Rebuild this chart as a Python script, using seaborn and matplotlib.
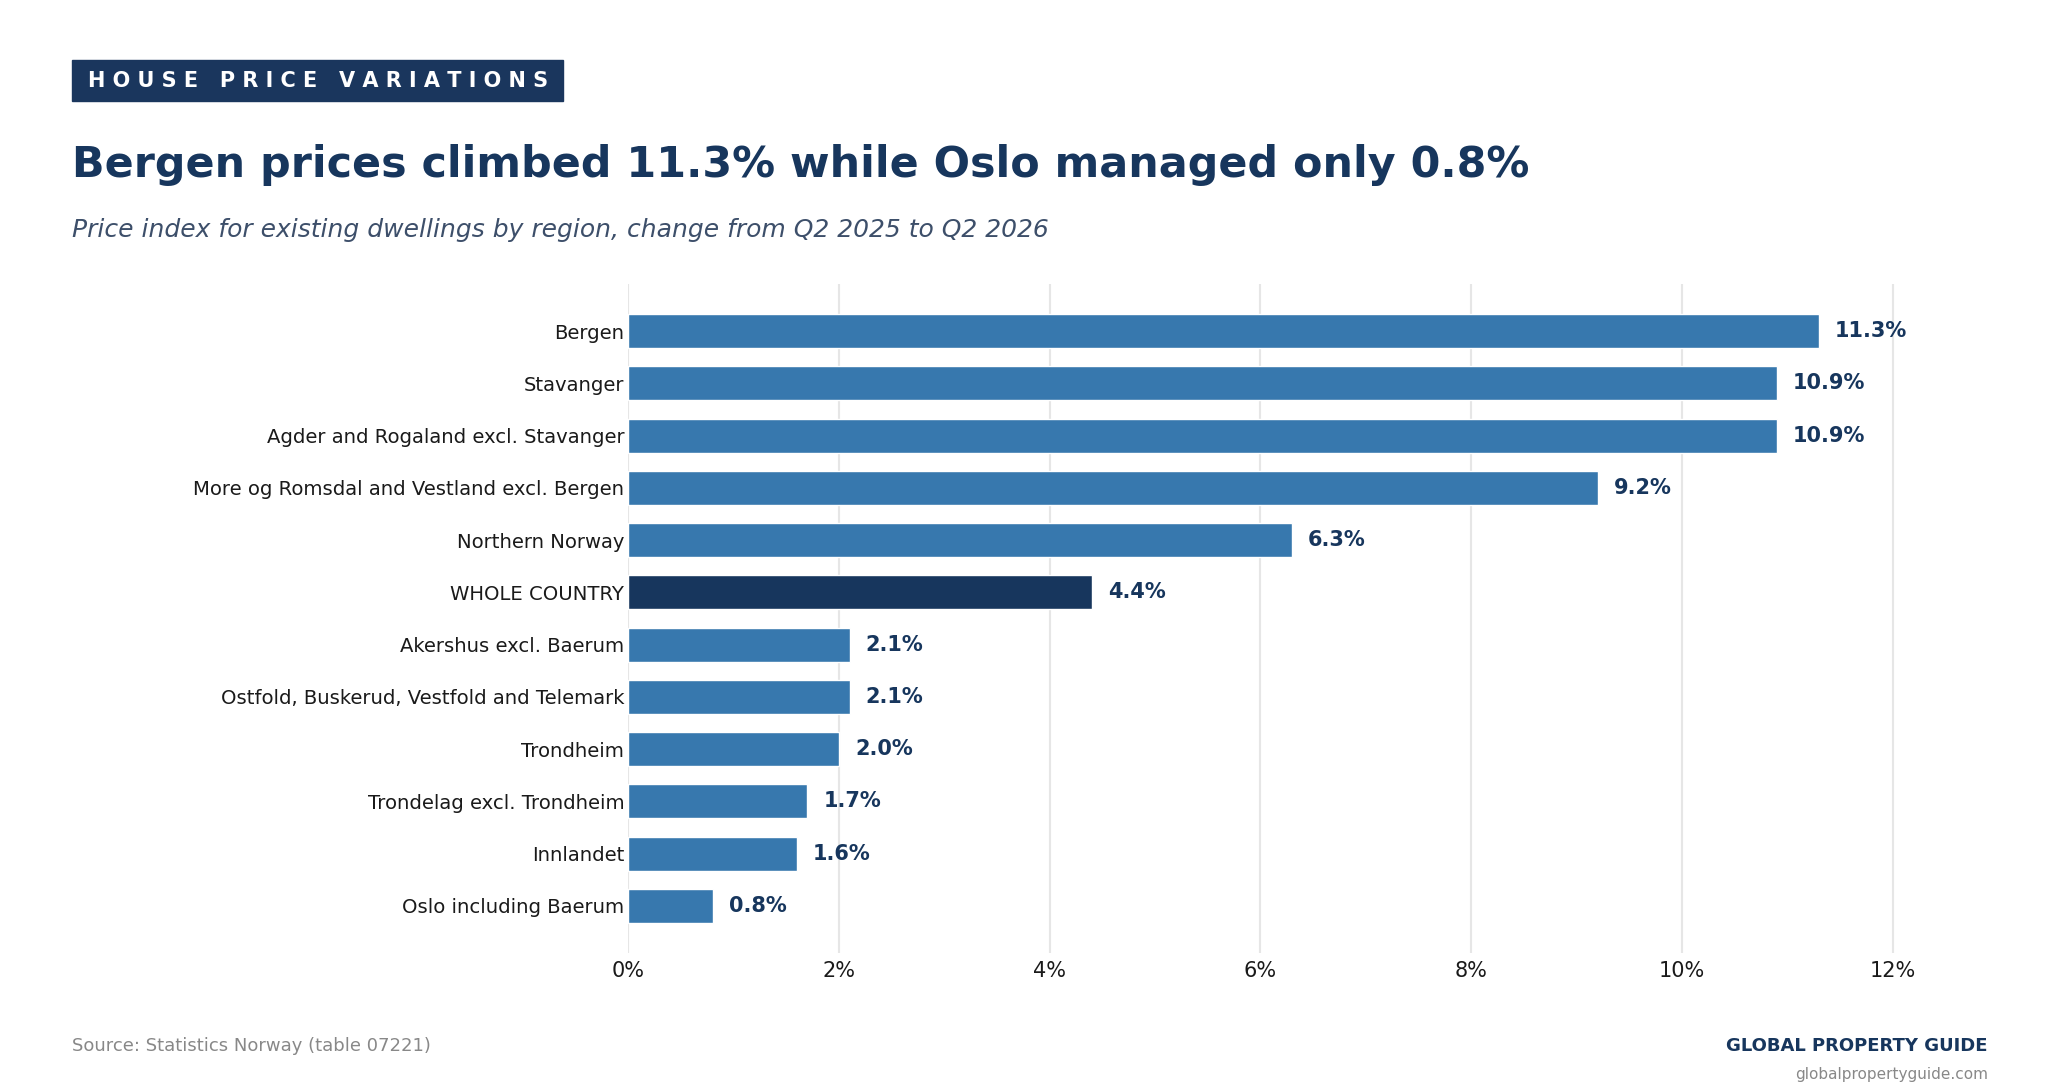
import matplotlib
matplotlib.use("Agg")
import matplotlib.pyplot as plt
import seaborn as sns
import pandas as pd
from matplotlib.patches import Rectangle
from matplotlib.ticker import FuncFormatter

regions = [
    "Bergen",
    "Stavanger",
    "Agder and Rogaland excl. Stavanger",
    "More og Romsdal and Vestland excl. Bergen",
    "Northern Norway",
    "WHOLE COUNTRY",
    "Akershus excl. Baerum",
    "Ostfold, Buskerud, Vestfold and Telemark",
    "Trondheim",
    "Trondelag excl. Trondheim",
    "Innlandet",
    "Oslo including Baerum",
]
changes = [11.3, 10.9, 10.9, 9.2, 6.3, 4.4, 2.1, 2.1, 2.0, 1.7, 1.6, 0.8]
x_ticks = [0, 2, 4, 6, 8, 10, 12]

NAVY = "#17365d"
BLUE = "#3778ae"

sns.set_theme(style="white")
plt.rcParams["font.family"] = ["DejaVu Sans"]

df = pd.DataFrame({"region": regions, "change": changes})
palette = {r: (NAVY if r == "WHOLE COUNTRY" else BLUE) for r in regions}

fig = plt.figure(figsize=(20.6, 10.9), dpi=100)
ax = fig.add_axes([0.305, 0.1257, 0.6357, 0.6137])

sns.barplot(data=df, x="change", y="region", hue="region", palette=palette,
            order=regions, hue_order=regions, legend=False, width=0.65,
            saturation=1, ax=ax)

ax.set_xlim(0, 12.43)
ax.set_ylim(11.9, -0.9)
ax.set_xticks(x_ticks)
ax.xaxis.set_major_formatter(FuncFormatter(lambda v, p: f"{v:.0f}%"))
ax.grid(axis="x", color="#e6e6e6", linewidth=1.5)
ax.grid(axis="y", visible=False)
ax.set_axisbelow(True)
for s in ax.spines.values():
    s.set_visible(False)
ax.set_xlabel("")
ax.set_ylabel("")
ax.tick_params(axis="y", length=0, pad=3, labelsize=14.1, labelcolor="#1a1a1a")
ax.tick_params(axis="x", length=0, pad=6, labelsize=15, labelcolor="#1a1a1a")

for i, v in enumerate(changes):
    ax.annotate(f"{v:.1f}%", xy=(v, i), xytext=(11.5, 0), textcoords="offset points",
                va="center", ha="left", fontsize=15, fontweight="bold", color=NAVY)

# Banner
fig.patches.append(Rectangle((72 / 2060, 1 - 101 / 1090), (563 - 72) / 2060, 41 / 1090,
                             transform=fig.transFigure, color="#1a365d", zorder=0))
fig.text(88 / 2060, 1 - 81 / 1090, "H O U S E   P R I C E   V A R I A T I O N S",
         color="white", fontsize=15, fontweight="bold", va="center", ha="left")

fig.text(72 / 2060, 1 - 165 / 1090,
         "Bergen prices climbed 11.3% while Oslo managed only 0.8%",
         color=NAVY, fontsize=30.9, fontweight="bold", va="center", ha="left")
fig.text(72 / 2060, 1 - 230 / 1090,
         "Price index for existing dwellings by region, change from Q2 2025 to Q2 2026",
         color="#3d4f6a", fontsize=18, fontstyle="italic", va="center", ha="left")

fig.text(72 / 2060, 1 - 1046 / 1090, "Source: Statistics Norway (table 07221)",
         color="#888888", fontsize=13, va="center", ha="left")
fig.text(1988 / 2060, 1 - 1046 / 1090, "GLOBAL PROPERTY GUIDE",
         color=NAVY, fontsize=13, fontweight="bold", va="center", ha="right")
fig.text(1988 / 2060, 1 - 1075 / 1090, "globalpropertyguide.com",
         color="#888888", fontsize=11, va="center", ha="right")

fig.savefig("out.png", dpi=100, facecolor="white")
